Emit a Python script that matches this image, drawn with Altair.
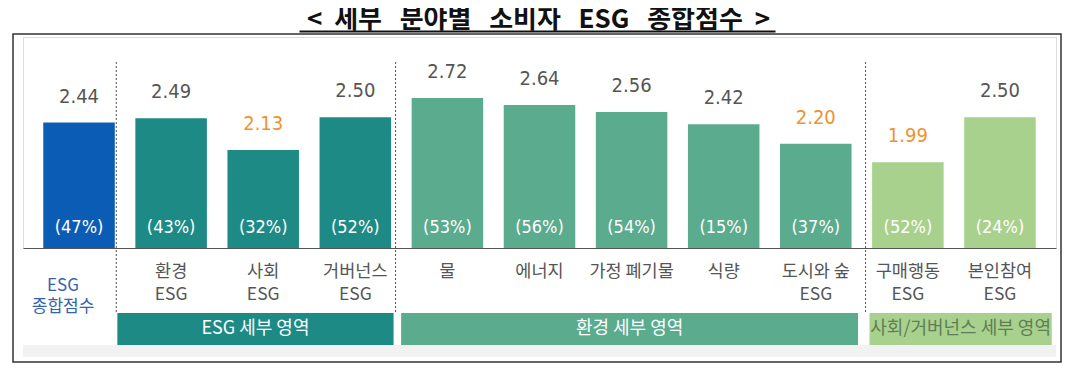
import altair as alt
import pandas as pd

# ---------------- data ----------------
categories = ["ESG|종합점수", "환경|ESG", "사회|ESG", "거버넌스|ESG", "물", "에너지",
              "가정 폐기물", "식량", "도시와 숲|ESG", "구매행동|ESG", "본인참여|ESG"]
scores = [2.44, 2.49, 2.13, 2.50, 2.72, 2.64, 2.56, 2.42, 2.20, 1.99, 2.50]
shares = ["(47%)", "(43%)", "(32%)", "(52%)", "(53%)", "(56%)", "(54%)", "(15%)",
          "(37%)", "(52%)", "(24%)"]
groups = ["종합", "ESG", "ESG", "ESG", "환경", "환경", "환경", "환경", "환경", "사회", "사회"]
lowest = [False, False, True, False, False, False, False, False, True, True, False]

group_keys = ["ESG", "환경", "사회"]
group_names = ["ESG 세부 영역", "환경 세부 영역", "사회/거버넌스 세부 영역"]
group_first = ["환경|ESG", "물", "구매행동|ESG"]
group_last = ["거버넌스|ESG", "도시와 숲|ESG", "본인참여|ESG"]

divider_after = ["ESG|종합점수", "거버넌스|ESG", "도시와 숲|ESG"]

title_text = "<\u00a0\u00a0세부\u00a0\u00a0\u00a0분야별\u00a0\u00a0\u00a0소비자\u00a0\u00a0\u00a0ESG\u00a0\u00a0\u00a0종합점수\u00a0\u00a0>"

# ---------------- styles ----------------
W, H = 1033, 211
YMIN, YMAX = 1.015, 3.413
P_IN, P_OUT = 0.2233, 0.22
STEP = W / (len(categories) - P_IN + 2 * P_OUT)
BW = STEP * (1 - P_IN)
color_domain = ["종합", "ESG", "환경", "사회"]
color_range = ["#0b5cb5", "#1e8a86", "#5bab8f", "#a8d18d"]
band_text_colors = ["#ffffff", "#ffffff", "#5f7d56"]
band_offsets = [(-18, 2.5), (-10.5, 6.5), (-2.6, 16)]
divider_offsets = [1.5, 4.5, 14]
GRAY = "#555555"
ORANGE = "#f0922e"
BLUE_TXT = "#3563ab"
NARROW = "Liberation Sans Narrow, Arial Narrow, DejaVu Sans Condensed, sans-serif"
KR = "Liberation Sans Narrow, Noto Sans CJK KR, sans-serif"

df = pd.DataFrame({"cat": categories, "score": scores, "share": shares,
                   "grp": groups, "hi": lowest})


def X(field, bp=None):
    kw = {}
    if bp is not None:
        kw["bandPosition"] = bp
    return alt.X(f"{field}:N", sort=categories,
                 scale=alt.Scale(domain=categories, paddingInner=P_IN, paddingOuter=P_OUT),
                 axis=alt.Axis(labels=False, ticks=False, title=None, domainColor=GRAY,
                               domainWidth=1.2, grid=False),
                 **kw)


yscale = alt.Scale(domain=[YMIN, YMAX], zero=False, nice=False)
one = pd.DataFrame({"k": [0]})

layers = []

# outer frame and bottom gray strip
layers.append(alt.Chart(one).mark_rect(fill="#f2f2f2").encode(
    x=alt.value(0), x2=alt.value(W), y=alt.value(308), y2=alt.value(320)))
layers.append(alt.Chart(one).mark_rect(fill=None, stroke="#333333", strokeWidth=1.5).encode(
    x=alt.value(-10), x2=alt.value(W + 5), y=alt.value(-3), y2=alt.value(325)))

# title with underline
layers.append(alt.Chart(one).mark_text(
    font="Noto Sans CJK KR", fontWeight="bold", fontSize=26, baseline="alphabetic",
    color="#111111").encode(x=alt.value(W / 2 - 1), y=alt.value(-9),
                            text=alt.value(title_text)))
layers.append(alt.Chart(one).mark_rule(color="#111111", strokeWidth=2).encode(
    x=alt.value(276.5), x2=alt.value(752.5), y=alt.value(-5.5)))

# bars
bars = alt.Chart(df).mark_bar().encode(
    x=X("cat"),
    y=alt.Y("score:Q", scale=yscale, axis=None),
    y2=alt.datum(YMIN),
    color=alt.Color("grp:N", scale=alt.Scale(domain=color_domain, range=color_range), legend=None),
)
layers.append(bars)

# value labels
layers.append(alt.Chart(df).mark_text(font=NARROW, fontSize=20, baseline="alphabetic", dy=-20).encode(
    x=X("cat"),
    y=alt.Y("score:Q", scale=yscale, axis=None),
    text=alt.Text("score:Q", format=".2f"),
    color=alt.condition("datum.hi", alt.value(ORANGE), alt.value(GRAY)),
))

# share labels
layers.append(alt.Chart(df).mark_text(font=NARROW, fontSize=18, baseline="middle", dy=-20,
                                      color="white").encode(
    x=X("cat"),
    y=alt.datum(YMIN, scale=yscale),
    text="share:N",
))

# category labels
layers.append(alt.Chart(df).transform_filter("datum.grp != '종합'").mark_text(
    font=KR, fontSize=17.5, baseline="top", lineBreak="|", lineHeight=23, color=GRAY).encode(
    x=X("cat"), y=alt.value(226), text="cat:N"))
layers.append(alt.Chart(df).transform_filter("datum.grp == '종합'").mark_text(
    font=KR, fontSize=17, baseline="middle", lineBreak="|", lineHeight=21, color=BLUE_TXT,
    dx=-16).encode(
    x=X("cat"), y=alt.value(248.5), text="cat:N"))

# dashed dividers
for c, off in zip(divider_after, divider_offsets):
    d = pd.DataFrame({"cat": [c]})
    layers.append(alt.Chart(d).mark_rule(color=GRAY, strokeDash=[2, 2], strokeWidth=1,
                                         xOffset=off).encode(
        x=X("cat", 1.0), y=alt.value(25), y2=alt.value(277)))

# group bands
for i in range(len(group_names)):
    d = pd.DataFrame({"first": [group_first[i]], "last": [group_last[i]],
                      "name": [group_names[i]], "grp": [group_keys[i]]})
    o1, o2 = band_offsets[i]
    span = (categories.index(group_last[i]) - categories.index(group_first[i])) * STEP + BW
    layers.append(alt.Chart(d).mark_rect(xOffset=o1, x2Offset=o2).encode(
        x=X("first", 0.0), x2=alt.X2("last:N", bandPosition=1.0),
        y=alt.value(276), y2=alt.value(308),
        color=alt.Color("grp:N", scale=alt.Scale(domain=color_domain, range=color_range),
                        legend=None)))
    layers.append(alt.Chart(d).mark_text(
        font=KR, fontSize=18, baseline="middle", align="center", color=band_text_colors[i],
        dx=(span + o1 + o2) / 2).encode(
        x=X("first", 0.0), text="name:N", y=alt.value(292)))

chart = alt.layer(*layers).properties(
    width=W, height=H,
    autosize=alt.AutoSizeParams(type="none"),
    padding={"left": 15, "top": 29, "right": 8, "bottom": 119},
).configure_view(fill="#f2f2f2", strokeWidth=0).configure(background="white")

chart.save("out.html", embed_options={"renderer": "svg", "actions": False})
